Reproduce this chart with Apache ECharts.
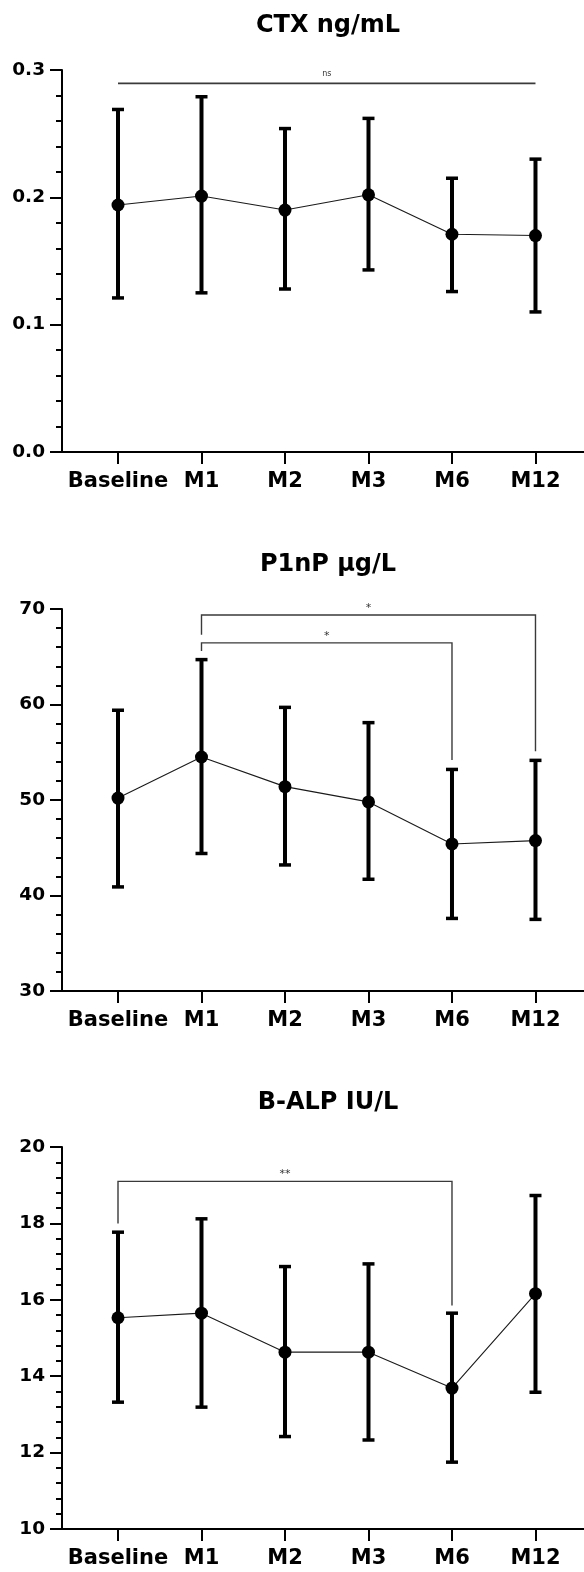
<!DOCTYPE html>
<html>
<head>
<meta charset="utf-8">
<script src="https://cdn.jsdelivr.net/npm/echarts@6/dist/echarts.min.js"></script>
<style>
html,body{margin:0;padding:0;background:#fff;}
#chart{width:584px;height:1572px;}
</style>
</head>
<body>
<div id="chart"></div>
<script>
// ---- data ----
const categories = ['Baseline', 'M1', 'M2', 'M3', 'M6', 'M12'];

const titles = ['CTX ng/mL', 'P1nP µg/L', 'B-ALP IU/L'];

const ctxMean  = [0.194, 0.201, 0.190, 0.202, 0.171, 0.170];
const ctxUpper = [0.269, 0.279, 0.254, 0.262, 0.215, 0.230];
const ctxLower = [0.121, 0.125, 0.128, 0.143, 0.126, 0.110];

const p1npMean  = [50.2, 54.5, 51.4, 49.8, 45.4, 45.75];
const p1npUpper = [59.4, 64.7, 59.7, 58.1, 53.2, 54.15];
const p1npLower = [40.9, 44.4, 43.2, 41.7, 37.6, 37.5];

const balpMean  = [15.53, 15.65, 14.63, 14.63, 13.69, 16.16];
const balpUpper = [17.77, 18.12, 16.87, 16.94, 15.65, 18.73];
const balpLower = [13.32, 13.19, 12.42, 12.33, 11.75, 13.58];

// y-axis ranges / ticks
const yMin = [0, 30, 10];
const yMax = [0.3, 70, 20];
const yInterval = [0.1, 10, 2];
const yDecimals = [1, 0, 0];

// significance brackets: [fromIndex, toIndex, barY, leftLegEnd, rightLegEnd]
const ctxBrackets  = [[0, 5, 0.2895, 0.2895, 0.2895]];
const ctxBracketLabels = ['ns'];
const p1npBrackets = [[1, 5, 69.37, 67.3, 55.1], [1, 4, 66.45, 65.6, 54.2]];
const p1npBracketLabels = ['*', '*'];
const balpBrackets = [[0, 4, 19.1, 18.0, 15.85]];
const balpBracketLabels = ['**'];

// ---- chart ----
const panels = [
  {mean: ctxMean, upper: ctxUpper, lower: ctxLower, brackets: ctxBrackets, labels: ctxBracketLabels},
  {mean: p1npMean, upper: p1npUpper, lower: p1npLower, brackets: p1npBrackets, labels: p1npBracketLabels},
  {mean: balpMean, upper: balpUpper, lower: balpLower, brackets: balpBrackets, labels: balpBracketLabels}
];

const FONT = 'DejaVu Sans';
const gridTops = [70, 609, 1147];
const gridH = 382;
const catIdx = categories.map((c, i) => i);

const grids = [], xAxes = [], yAxes = [], series = [], graphics = [];

panels.forEach((p, k) => {
  grids.push({left: 62, right: 0, top: gridTops[k], height: gridH, containLabel: false});
  xAxes.push({
    gridIndex: k, type: 'value', min: -0.6707, max: 5.581,
    axisLine: {show: true, onZero: false, lineStyle: {color: '#000', width: 2}},
    axisTick: {show: true, customValues: catIdx, length: 12, lineStyle: {color: '#000', width: 2}},
    axisLabel: {
      show: true, customValues: catIdx, margin: 19,
      formatter: v => categories[Math.round(v)],
      color: '#000', fontFamily: FONT, fontWeight: 'bold', fontSize: 21
    },
    splitLine: {show: false}
  });
  yAxes.push({
    gridIndex: k, type: 'value', min: yMin[k], max: yMax[k], interval: yInterval[k],
    axisLine: {show: true, onZero: false, lineStyle: {color: '#000', width: 2}},
    axisTick: {show: true, length: 12, lineStyle: {color: '#000', width: 2}},
    minorTick: {show: true, splitNumber: 5, length: 6, lineStyle: {color: '#000', width: 2}},
    splitLine: {show: false},
    minorSplitLine: {show: false},
    axisLabel: {
      margin: 17, color: '#000', fontFamily: FONT, fontWeight: 'bold', fontSize: 18.5,
      formatter: v => Number(v).toFixed(yDecimals[k])
    }
  });

  // error bars
  series.push({
    type: 'custom', xAxisIndex: k, yAxisIndex: k, z: 2,
    data: catIdx.map(i => [i, p.lower[i], p.upper[i]]),
    encode: {x: 0, y: [1, 2]},
    renderItem: (params, api) => {
      const x = api.value(0);
      const top = api.coord([x, api.value(2)]);
      const bot = api.coord([x, api.value(1)]);
      const hw = 6;
      return {
        type: 'group',
        children: [
          {type: 'line', shape: {x1: top[0], y1: top[1], x2: bot[0], y2: bot[1]}, style: {stroke: '#000', lineWidth: 4}},
          {type: 'line', shape: {x1: top[0] - hw, y1: top[1], x2: top[0] + hw, y2: top[1]}, style: {stroke: '#000', lineWidth: 3.5}},
          {type: 'line', shape: {x1: bot[0] - hw, y1: bot[1], x2: bot[0] + hw, y2: bot[1]}, style: {stroke: '#000', lineWidth: 3.5}}
        ]
      };
    }
  });

  // mean line + markers
  series.push({
    type: 'line', xAxisIndex: k, yAxisIndex: k, z: 3,
    data: catIdx.map(i => [i, p.mean[i]]),
    symbol: 'circle', symbolSize: 13,
    itemStyle: {color: '#000'},
    lineStyle: {color: '#1a1a1a', width: 1.1},
    emphasis: {disabled: true}
  });

  // brackets
  series.push({
    type: 'custom', xAxisIndex: k, yAxisIndex: k, z: 4,
    data: p.brackets,
    encode: {x: [0, 1], y: [2, 3, 4]},
    renderItem: (params, api) => {
      const a = api.value(0), b = api.value(1), y = api.value(2), l = api.value(3), r = api.value(4);
      const p1 = api.coord([a, l]), p2 = api.coord([a, y]), p3 = api.coord([b, y]), p4 = api.coord([b, r]);
      const mid = api.coord([(a + b) / 2, y]);
      const lab = p.labels[params.dataIndex];
      const isNs = lab === 'ns';
      return {
        type: 'group',
        children: [
          {type: 'polyline', shape: {points: [p1, p2, p3, p4]}, style: {stroke: '#3a3a3a', lineWidth: isNs ? 1.7 : 1.4, fill: null}},
          {type: 'text', x: mid[0], y: mid[1] - (isNs ? 9 : 7),
           style: {text: lab, fill: '#333', font: (isNs ? '8px ' : '11px ') + FONT, align: 'center', verticalAlign: 'middle'}}
        ]
      };
    }
  });

  graphics.push({
    type: 'text', x: 328, y: gridTops[k] - 44.5,
    style: {text: titles[k], fill: '#000', font: 'bold 24px ' + FONT, align: 'center', verticalAlign: 'middle'}
  });
});

const chart = echarts.init(document.getElementById('chart'), null, {renderer: 'canvas'});
chart.setOption({
  animation: false,
  backgroundColor: '#fff',
  grid: grids,
  xAxis: xAxes,
  yAxis: yAxes,
  series: series,
  graphic: graphics
});
</script>
</body>
</html>
